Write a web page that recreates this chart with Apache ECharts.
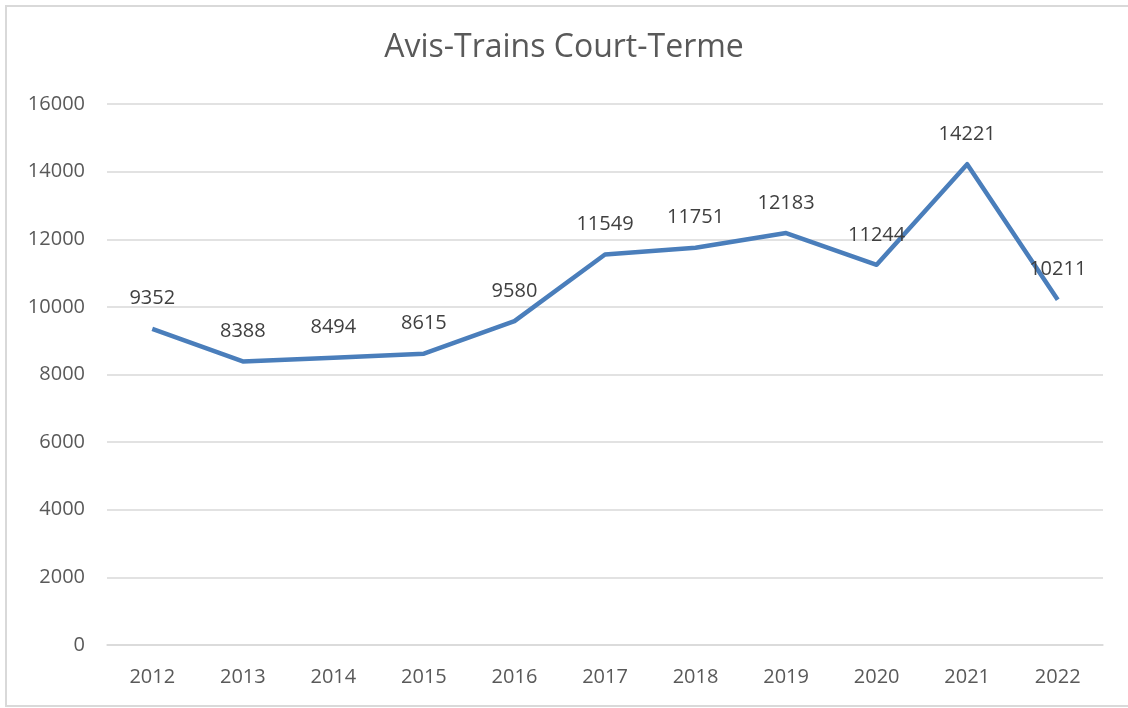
<!DOCTYPE html>
<html>
<head>
<meta charset="utf-8">
<script src="https://cdn.jsdelivr.net/npm/echarts@6/dist/echarts.min.js"></script>
<style>
  html, body { margin: 0; padding: 0; background: #fff; }
  #chart { width: 1128px; height: 708px; }
</style>
</head>
<body>
<div id="chart"></div>
<script>
// Avis-Trains Court-Terme, yearly counts 2012-2022
const years = ['2012', '2013', '2014', '2015', '2016', '2017', '2018', '2019', '2020', '2021', '2022'];
const avisCount = [9352, 8388, 8494, 8615, 9580, 11549, 11751, 12183, 11244, 14221, 10211];

const FONT = '"Open Sans", "Liberation Sans", sans-serif';
const chart = echarts.init(document.getElementById('chart'), null, { renderer: 'canvas' });

chart.setOption({
  backgroundColor: '#fff',
  animation: false,
  textStyle: { fontFamily: FONT },
  title: {
    text: 'Avis-Trains Court-Terme',
    left: 'center',
    top: 27,
    textStyle: { color: '#595959', fontSize: 32, fontWeight: 'normal', fontFamily: FONT },
  },
  graphic: [{
    type: 'rect',
    shape: { x: 6, y: 6, width: 1140, height: 700 },
    style: { fill: 'none', stroke: '#d9d9d9', lineWidth: 2 },
    silent: true,
  }],
  grid: { left: 107, right: 25, top: 104, bottom: 63 },
  xAxis: {
    type: 'category',
    data: years,
    boundaryGap: true,
    axisLine: { lineStyle: { color: '#d9d9d9', width: 1.5 } },
    axisTick: { show: false },
    axisLabel: { color: '#595959', fontSize: 20, margin: 22, fontFamily: FONT },
  },
  yAxis: {
    type: 'value',
    min: 0,
    max: 16000,
    interval: 2000,
    axisLine: { show: false },
    axisTick: { show: false },
    axisLabel: { color: '#595959', fontSize: 20, margin: 22, fontFamily: FONT, formatter: (v) => String(v) },
    splitLine: { lineStyle: { color: '#d9d9d9', width: 1.5 } },
  },
  series: [{
    name: 'Avis-Trains Court-Terme',
    type: 'line',
    data: avisCount,
    symbol: 'circle',
    symbolSize: 0,
    showSymbol: true,
    lineStyle: { color: '#4a7ebb', width: 4.5, join: 'round' },
    label: {
      show: true,
      position: 'top',
      distance: 20,
      color: '#404040',
      fontSize: 20,
      fontFamily: FONT,
    },
  }],
});
</script>
</body>
</html>
